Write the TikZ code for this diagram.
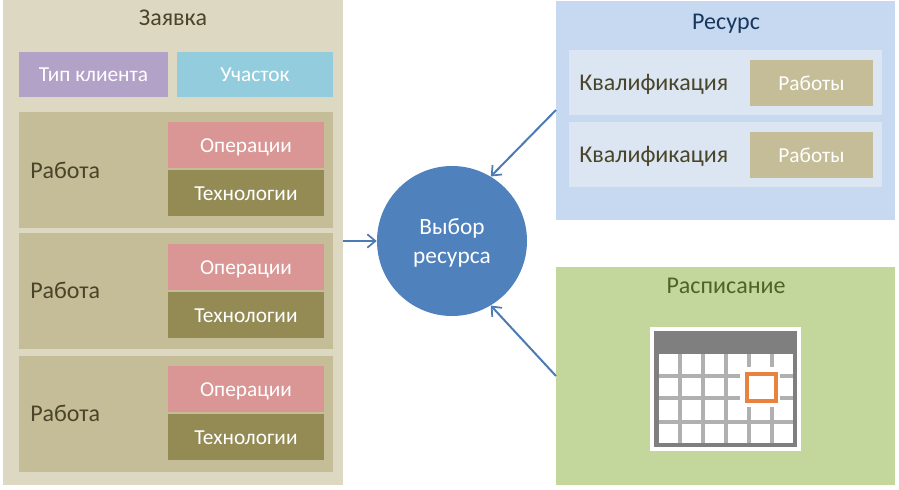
\documentclass[tikz,border=0pt]{standalone}
\usepackage{fontspec}
\setmainfont{Carlito}
\usetikzlibrary{arrows.meta}

\definecolor{panelcol}{HTML}{DDD8C2}
\definecolor{jobcol}{HTML}{C4BD97}
\definecolor{opercol}{HTML}{D99694}
\definecolor{techcol}{HTML}{948A54}
\definecolor{clientcol}{HTML}{B3A2C7}
\definecolor{sitecol}{HTML}{93CDDD}
\definecolor{rescol}{HTML}{C6D9F1}
\definecolor{rowcol}{HTML}{DCE6F2}
\definecolor{schedcol}{HTML}{C3D69B}
\definecolor{circlecol}{HTML}{4F81BD}
\definecolor{darktext}{HTML}{4A452A}
\definecolor{restext}{HTML}{17375E}
\definecolor{schedtext}{HTML}{4F6228}
\definecolor{gridcol}{HTML}{B0B0B0}
\definecolor{framecol}{HTML}{7F7F7F}
\definecolor{ordercol}{HTML}{E8833F}

\begin{document}
\begin{tikzpicture}[
        x=0.75pt, y=-0.75pt,
        box/.style={rectangle, inner sep=0pt, text height=10.5pt, text depth=0pt, font=\fontsize{16}{18}\selectfont, text=white},
        title/.style={inner sep=0pt, text height=11pt, text depth=0pt, font=\fontsize{18}{20}\selectfont},
        flow/.style={draw=circlecol!95!black, line width=1.5pt, -{Straight Barb[length=6pt, width=10pt, line width=1.3pt]}},
        gridline/.style={draw=gridcol, line width=3pt}
    ]
        \useasboundingbox (0,0) rectangle (899,489);

        % Big panels
        \fill[panelcol] (3,0) rectangle (343,485);
        \fill[rescol] (556,1) rectangle (895,220);
        \fill[schedcol] (556,267) rectangle (895,485);

        \node[title, text=darktext] (zayavka) at (173,18) {Заявка};
        \node[title, text=restext] (resurs) at (726,22) {Ресурс};
        \node[title, text=schedtext] (raspis) at (726,286) {Расписание};

        % Top row of the order panel
        \node[box, fill=clientcol, minimum width=112pt, minimum height=33.75pt] (client) at (93.5,74.5) {Тип клиента};
        \node[box, fill=sitecol, minimum width=117pt, minimum height=33.75pt] (site) at (255,74.5) {Участок};

        % Three jobs
        \foreach \i/\ytop/\ymid/\yop/\ytech in {1/112/171/145/193, 2/233/291/267/315, 3/356/414/389/437} {
            \fill[jobcol] (19,\ytop) rectangle (333,\ytop+115.5);
            \node[title, text=darktext, anchor=west] (job\i) at (30,\ymid) {Работа};
            \node[box, fill=opercol, minimum width=117pt, minimum height=34.5pt] (oper\i) at (246,\yop) {Операции};
            \node[box, fill=techcol, minimum width=117pt, minimum height=34.5pt] (tech\i) at (246,\ytech) {Технологии};
        }

        % Qualification rows of the resource panel
        \foreach \i/\ymid in {1/83, 2/155} {
            \node[rectangle, fill=rowcol, inner sep=0pt, minimum width=234.75pt, minimum height=48.75pt] (row\i) at (725.5,\ymid-0.5) {};
            \node[title, text=darktext, anchor=west] (qual\i) at (579,\ymid) {Квалификация};
            \node[box, fill=jobcol, minimum width=92.25pt, minimum height=34.5pt] (work\i) at (811.5,\ymid) {Работы};
        }

        % Calendar
        \fill[white] (650,327) rectangle (801,451);
        \fill[framecol] (654,331) rectangle (797,447);
        \fill[white] (659,354) rectangle (793,443);
        \foreach \x in {680,703,726} {
            \draw[gridline] (\x,354) -- (\x,443);
        }
        \foreach \x in {749,772} {
            \draw[gridline] (\x,354) -- (\x,367);
            \draw[gridline] (\x,407) -- (\x,443);
        }
        \foreach \y in {376,398} {
            \draw[gridline] (659,\y) -- (740,\y);
            \draw[gridline] (780,\y) -- (793,\y);
        }
        \draw[gridline] (659,422) -- (793,422);
        \draw[draw=ordercol, line width=3pt] (746.5,373.5) rectangle (775.5,400.5);

        % Choice circle
        \node[circle, fill=circlecol, inner sep=0pt, minimum size=112.5pt, align=center, text=white, text depth=0pt,
              font=\fontsize{17.5}{21.75}\selectfont] (vybor) at (452,241) {Выбор\\ресурса};

        % Arrows into the circle
        \coordinate (zayavkaout) at (343,241);
        \coordinate (resursout) at (556,110);
        \coordinate (raspisout) at (556,376);
        \draw[flow] (zayavkaout) -- (vybor);
        \draw[flow] (resursout) -- (vybor.59);
        \draw[flow] (raspisout) -- (vybor.-59);

    \end{tikzpicture}
\end{document}
